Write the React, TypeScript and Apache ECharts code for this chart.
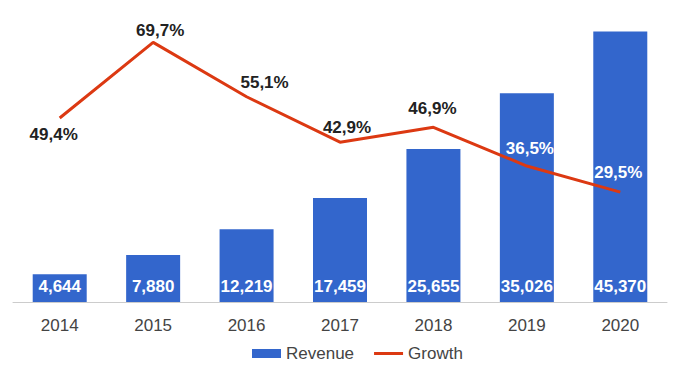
import React, { useEffect, useRef } from "react";
import * as echarts from "echarts";

const years = ["2014", "2015", "2016", "2017", "2018", "2019", "2020"];
const revenue = [4644, 7880, 12219, 17459, 25655, 35026, 45370];
const growth = [49.4, 69.7, 55.1, 42.9, 46.9, 36.5, 29.5];
const growthLabelOffsets: [number, number][] = [
  [-6, 17],
  [7, -12],
  [18, -14],
  [7, -15],
  [-1, -19],
  [3, -18],
  [-2, -20],
];
const growthLabelColors = ["#222", "#222", "#222", "#222", "#222", "#fff", "#fff"];

const FONT = 'Arial, "Liberation Sans", sans-serif';

export default function App() {
  const ref = useRef<HTMLDivElement>(null);
  useEffect(() => {
    document.body.style.margin = "0";
    const chart = echarts.init(ref.current!, null, { renderer: "svg" });
    chart.setOption({
      animation: false,
      textStyle: { fontFamily: FONT },
      grid: { left: 13, right: 13, top: 4, bottom: 71 },
      legend: {
        bottom: 6,
        left: 247,
        itemWidth: 29,
        itemHeight: 9,
        itemGap: 20,
        textStyle: { fontSize: 17, color: "#444", fontFamily: FONT },
        data: [
          { name: "Revenue", icon: "rect" },
          { name: "Growth", icon: "path://M0,0h29v3h-29z" },
        ],
      },
      xAxis: {
        type: "category",
        data: years,
        axisTick: { show: false },
        axisLine: { lineStyle: { color: "#ccc", width: 1 } },
        axisLabel: { fontSize: 17, color: "#444", margin: 15, fontFamily: FONT },
      },
      yAxis: [
        { type: "value", min: 0, max: 50000, show: false, splitLine: { show: false } },
        { type: "value", min: 0, max: 80, show: false, splitLine: { show: false } },
      ],
      series: [
        {
          name: "Revenue",
          type: "bar",
          data: revenue,
          barWidth: 54,
          itemStyle: { color: "#3366cc" },
          label: {
            show: true,
            position: "insideBottom",
            distance: 7,
            color: "#fff",
            fontWeight: "bold",
            fontSize: 17,
            fontFamily: FONT,
            formatter: (p: any) => Number(p.value).toLocaleString("en-US"),
          },
        },
        {
          name: "Growth",
          type: "line",
          yAxisIndex: 1,
          data: growth.map((v, i) => ({
            value: v,
            label: { offset: growthLabelOffsets[i], color: growthLabelColors[i] },
          })),
          symbol: "circle",
          symbolSize: 0.1,
          showSymbol: true,
          lineStyle: { color: "#dc3912", width: 3 },
          itemStyle: { color: "#dc3912" },
          label: {
            show: true,
            position: "inside",
            fontWeight: "bold",
            fontSize: 17,
            fontFamily: FONT,
            formatter: (p: any) => String(p.value).replace(".", ",") + "%",
          },
        },
      ],
    });
    return () => chart.dispose();
  }, []);
  return <div ref={ref} style={{ width: 680, height: 373 }} />;
}
